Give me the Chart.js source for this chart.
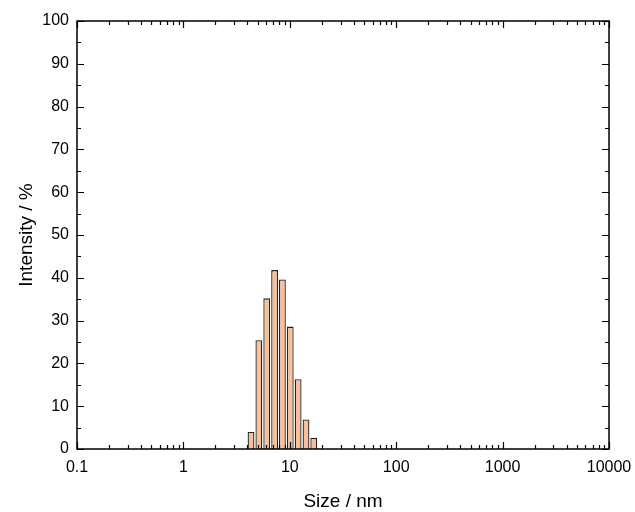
<!DOCTYPE html>
<html>
<head>
<meta charset="utf-8">
<script src="https://cdn.jsdelivr.net/npm/chart.js@4/dist/chart.umd.min.js"></script>
<style>
  html, body { margin: 0; padding: 0; background: #fff; }
  #wrap { width: 635px; height: 512px; }
</style>
</head>
<body>
<div id="wrap"><canvas id="dlsChart" width="635" height="512"></canvas></div>
<script>
// size bins (nm) and intensity (%)
var sizes = [4.32, 5.12, 6.07, 7.2, 8.52, 10.1, 11.97, 14.2, 16.8];
var intensity = [4.0, 25.4, 35.2, 41.8, 39.6, 28.6, 16.3, 6.9, 2.6];

var xTicks = [0.1, 1, 10, 100, 1000, 10000];
var yTicks = [0, 10, 20, 30, 40, 50, 60, 70, 80, 90, 100];

var points = sizes.map(function (s, i) { return { x: s, y: intensity[i] }; });

// inward ticks on all four sides + frame
var frameTicks = {
  id: 'frameTicks',
  afterDraw: function (chart) {
    var c = chart.ctx, a = chart.chartArea;
    var xs = chart.scales.x, ys = chart.scales.y;
    c.save();
    c.strokeStyle = '#000';
    c.lineWidth = 1.5;
    c.strokeRect(a.left, a.top, a.right - a.left, a.bottom - a.top);
    c.lineWidth = 1.2;
    c.beginPath();
    // x: decades major, 2..9 minor
    for (var d = 0; d < xTicks.length; d++) {
      var dec = xTicks[d];
      for (var m = 1; m <= 9; m++) {
        var v = dec * m;
        if (v > 10000) break;
        var px = Math.round(xs.getPixelForValue(v)) + 0.5;
        var len = m === 1 ? 7 : 4;
        c.moveTo(px, a.bottom); c.lineTo(px, a.bottom - len);
        c.moveTo(px, a.top); c.lineTo(px, a.top + len);
      }
    }
    // y: major every 10, minor every 5
    for (var y = 0; y <= 100; y += 5) {
      var py = Math.round(ys.getPixelForValue(y)) + 0.5;
      var l = y % 10 === 0 ? 7 : 4;
      c.moveTo(a.left, py); c.lineTo(a.left + l, py);
      c.moveTo(a.right, py); c.lineTo(a.right - l, py);
    }
    c.stroke();
    c.restore();
  }
};

var ctx = document.getElementById('dlsChart').getContext('2d');
var myChart = new Chart(ctx, {
  type: 'bar',
  data: {
    datasets: [{
      data: points,
      backgroundColor: '#f8bf98',
      borderColor: '#222',
      borderWidth: 1.3,
      categoryPercentage: 1,
      barPercentage: 0.88
    }]
  },
  options: {
    responsive: false,
    animation: false,
    layout: { padding: { top: 21, right: 26, left: 0, bottom: 0 } },
    plugins: { legend: { display: false }, tooltip: { enabled: false } },
    scales: {
      x: {
        type: 'logarithmic',
        min: 0.1,
        max: 10000,
        afterBuildTicks: function (scale) {
          scale.ticks = xTicks.map(function (v) { return { value: v }; });
        },
        afterFit: function (scale) {
          scale.height = 63;
          scale.paddingLeft = 0;
          scale.paddingRight = 0;
        },
        ticks: {
          color: '#000',
          font: { family: 'Liberation Sans, Arial', size: 16 },
          padding: 9,
          maxRotation: 0,
          autoSkip: false,
          callback: function (v) { return String(v); }
        },
        grid: { display: false, drawTicks: false },
        border: { display: false },
        title: {
          display: true,
          text: 'Size / nm',
          color: '#000',
          font: { family: 'Liberation Sans, Arial', size: 19, lineHeight: 1 },
          padding: { top: 0, bottom: 1 }
        }
      },
      y: {
        min: 0,
        max: 100,
        afterBuildTicks: function (scale) {
          scale.ticks = yTicks.map(function (v) { return { value: v }; });
        },
        afterFit: function (scale) {
          scale.width = 77;
          scale.paddingTop = 0;
          scale.paddingBottom = 0;
        },
        ticks: {
          color: '#000',
          font: { family: 'Liberation Sans, Arial', size: 16 },
          padding: 8
        },
        grid: { display: false, drawTicks: false },
        border: { display: false },
        title: {
          display: true,
          text: 'Intensity / %',
          color: '#000',
          font: { family: 'Liberation Sans, Arial', size: 19, lineHeight: 1 },
          padding: { top: 17, bottom: 0 }
        }
      }
    }
  },
  plugins: [frameTicks]
});
</script>
</body>
</html>
